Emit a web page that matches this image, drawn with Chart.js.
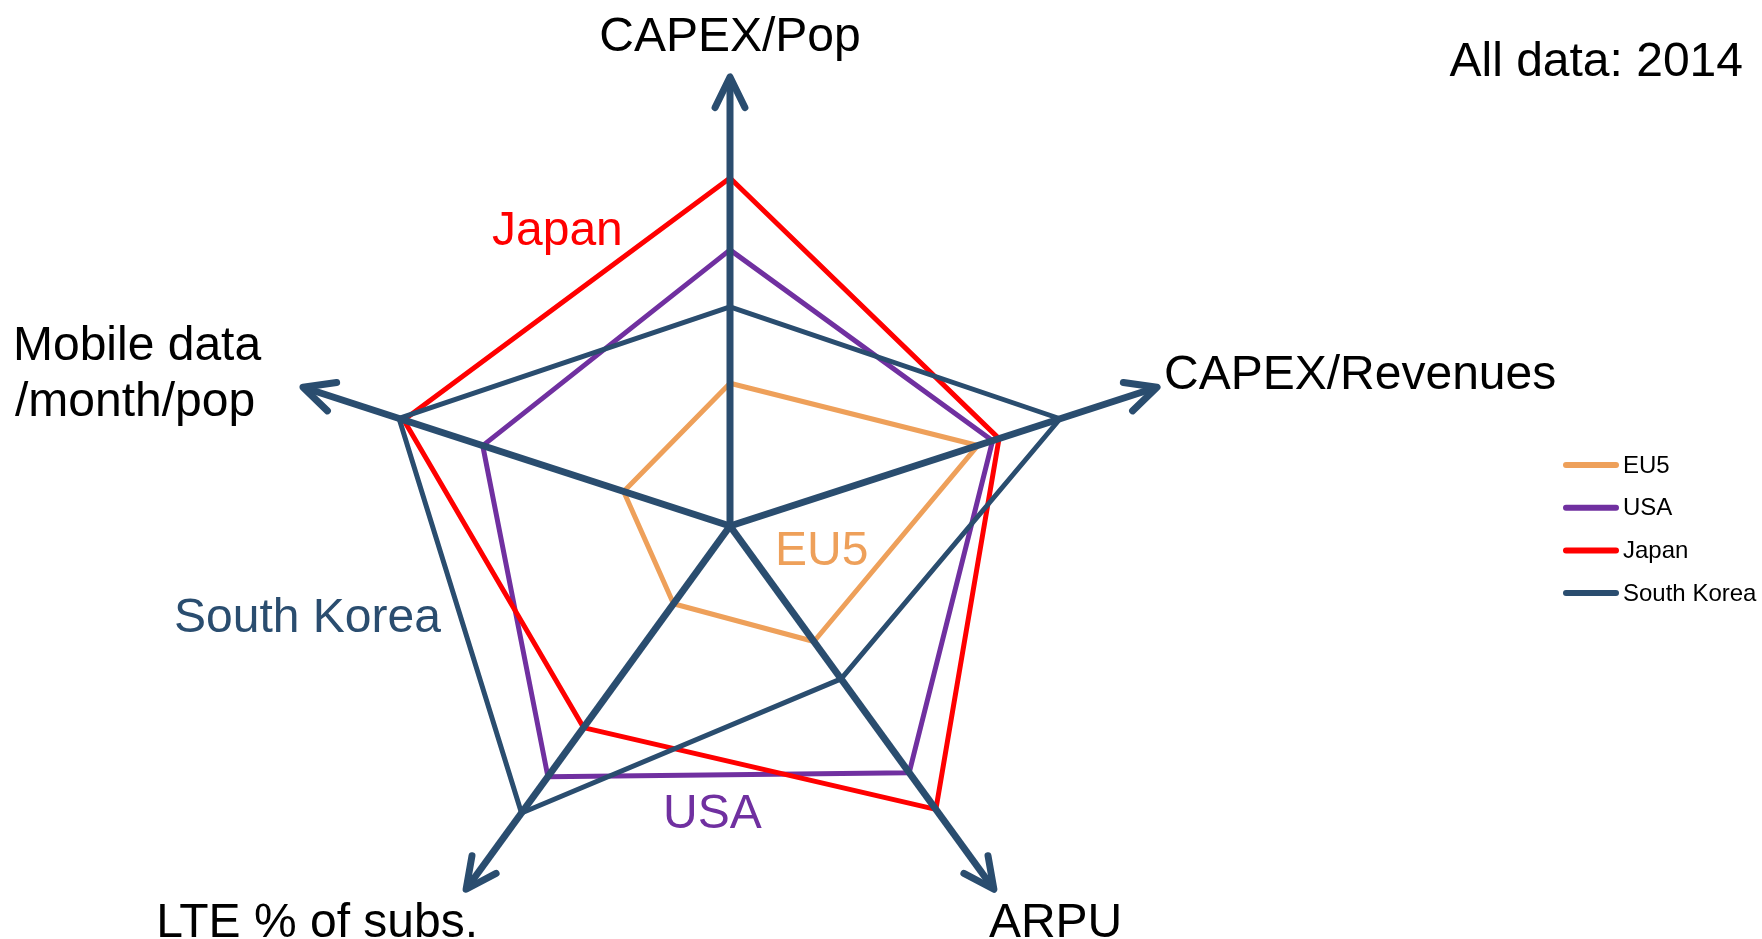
<!DOCTYPE html>
<html>
<head>
<meta charset="utf-8">
<script src="https://cdn.jsdelivr.net/npm/chart.js@4.4.1/dist/chart.umd.min.js"></script>
<style>
  html, body { margin: 0; padding: 0; background: #fff; overflow: hidden; }
  #wrap { position: relative; width: 1762px; height: 939px; }
</style>
</head>
<body>
<div id="wrap"><canvas id="radar"></canvas></div>
<script>
// axes, clockwise from the top
const categories = ['CAPEX/Pop', 'CAPEX/Revenues', 'ARPU', 'LTE % of subs.', 'Mobile data /month/pop'];
const seriesNames = ['EU5', 'USA', 'Japan', 'South Korea'];
const seriesColors = ['#EEA05A', '#7030A0', '#FF0000', '#2A4D6F'];

// index values, 10 = end of the arrow
const eu5 = [3.18, 5.8, 3.18, 2.14, 2.49];
const usa = [6.15, 6.15, 6.79, 6.9, 5.79];
const japan = [7.75, 6.3, 7.8, 5.55, 7.64];
const southKorea = [4.88, 7.73, 4.21, 7.9, 7.75];
const axisMax = 10;
const note = 'All data: 2014';

const AXIS = '#2A4D6F';
const FONT = "'Liberation Sans', Arial, sans-serif";

const overlay = {
    id: 'overlay',
    afterDraw(chart) {
        const r = chart.scales.r;
        const ctx = chart.ctx;
        const cx = r.xCenter, cy = r.yCenter;
        ctx.save();

        // arrow heads on the axis ends
        ctx.strokeStyle = AXIS;
        ctx.lineWidth = 7;
        ctx.lineCap = 'round';
        ctx.lineJoin = 'round';
        const head = 34, spread = 26 * Math.PI / 180;
        categories.forEach((c, i) => {
            const tip = r.getPointPositionForValue(i, axisMax);
            const a = tip.angle;
            ctx.beginPath();
            ctx.moveTo(tip.x - head * Math.cos(a - spread), tip.y - head * Math.sin(a - spread));
            ctx.lineTo(tip.x, tip.y);
            ctx.lineTo(tip.x - head * Math.cos(a + spread), tip.y - head * Math.sin(a + spread));
            ctx.stroke();
        });

        // axis names next to the arrows
        ctx.font = '48px ' + FONT;
        ctx.fillStyle = '#000';
        ctx.textBaseline = 'alphabetic';
        const place = [
            [0, -26, 'center'],
            [7, 2, 'left'],
            [-5, 48, 'left'],
            [12, 48, 'right'],
            [-290, -27, 'left']
        ];
        categories.forEach((c, i) => {
            const tip = r.getPointPositionForValue(i, axisMax);
            const [dx, dy, align] = place[i];
            ctx.textAlign = align;
            if (i === 4) {
                ctx.fillText('Mobile data', tip.x + dx, tip.y + dy);
                ctx.fillText('/month/pop', tip.x + dx + 2, tip.y + dy + 56);
            } else {
                ctx.fillText(c, tip.x + dx, tip.y + dy);
            }
        });

        // series names inside the plot
        const tags = [[45, 39], [-67, 302], [-238, -281], [-556, 106]];
        ctx.textAlign = 'left';
        seriesNames.forEach((s, i) => {
            ctx.fillStyle = seriesColors[i];
            ctx.fillText(s, cx + tags[i][0], cy + tags[i][1]);
        });

        // note
        ctx.fillStyle = '#000';
        ctx.textAlign = 'right';
        ctx.fillText(note, 1743, 76);

        // legend
        ctx.font = '24px ' + FONT;
        ctx.textAlign = 'left';
        ctx.textBaseline = 'middle';
        ctx.lineWidth = 6;
        seriesNames.forEach((s, i) => {
            const y = 465 + i * 42.7;
            ctx.strokeStyle = seriesColors[i];
            ctx.beginPath();
            ctx.moveTo(1566, y);
            ctx.lineTo(1616, y);
            ctx.stroke();
            ctx.fillStyle = '#000';
            ctx.fillText(s, 1623, y + 1);
        });
        ctx.restore();
    }
};

const values = [eu5, usa, japan, southKorea];
const datasets = seriesNames.map((name, i) => ({
    label: name,
    data: values[i],
    borderColor: seriesColors[i],
    backgroundColor: 'transparent',
    borderWidth: 5,
    fill: false,
    clip: false,
    pointRadius: 0,
    pointHoverRadius: 0,
    order: 3 - i
}));

new Chart(document.getElementById('radar'), {
    type: 'radar',
    data: { labels: categories, datasets: datasets },
    options: {
        responsive: true,
        maintainAspectRatio: false,
        animation: false,
        layout: { padding: { left: 281, right: 583, top: 77, bottom: 0 } },
        plugins: {
            legend: { display: false },
            tooltip: { enabled: false }
        },
        elements: { line: { tension: 0, borderJoinStyle: 'round' } },
        scales: {
            r: {
                min: 0,
                max: axisMax,
                ticks: { display: false },
                grid: { display: false, z: 1 },
                angleLines: { display: true, color: AXIS, lineWidth: 7 },
                pointLabels: { display: false },
                afterFit(scale) {
                    // the plot runs a little past the bottom edge of the page
                    scale.drawingArea = 449;
                    scale.yCenter = 526;
                }
            }
        }
    },
    plugins: [overlay]
});
</script>
</body>
</html>
